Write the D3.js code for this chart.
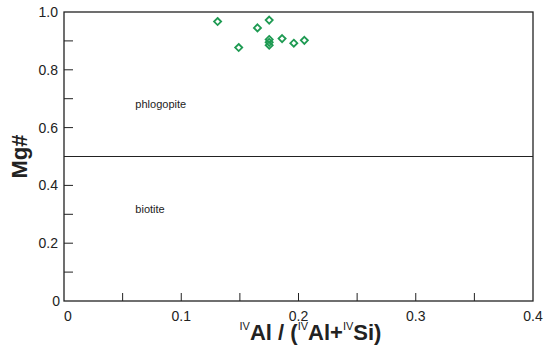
<!DOCTYPE html>
<html>
<head>
<meta charset="utf-8">
<script src="https://cdn.jsdelivr.net/npm/d3@7"></script>
<style>
  body { margin: 0; background: #fff; }
  text { font-family: "Liberation Sans", Arial, sans-serif; }
</style>
</head>
<body>
<svg id="mainsvg" width="550" height="351"></svg>
<script>
const alRatio = [0.131, 0.149, 0.165, 0.175, 0.175, 0.175, 0.175, 0.186, 0.196, 0.205];
const mgNum   = [0.967, 0.877, 0.945, 0.972, 0.905, 0.895, 0.885, 0.908, 0.892, 0.902];
const xTicks = [0, 0.1, 0.2, 0.3, 0.4];
const yTicks = [0, 0.2, 0.4, 0.6, 0.8, 1.0];
const fields = [{ name: 'phlogopite', x: 0.06, y: 0.68 }, { name: 'biotite', x: 0.06, y: 0.32 }];
const boundary = 0.5;

const svg = d3.select('#mainsvg');
const margin = { top: 12, right: 17, bottom: 50, left: 64 };
const innerWidth = 550 - margin.left - margin.right;
const innerHeight = 351 - margin.top - margin.bottom;
const g = svg.append('g').attr('transform', `translate(${margin.left}, ${margin.top})`);

const x = d3.scaleLinear().domain([0, 0.4]).range([0, innerWidth]);
const y = d3.scaleLinear().domain([0, 1]).range([innerHeight, 0]);

// frame
g.append('rect')
  .attr('width', innerWidth).attr('height', innerHeight)
  .attr('fill', 'none').attr('stroke', '#222').attr('stroke-width', 1.3);

// inward ticks
g.selectAll('.xt').data(d3.range(1, 8).map(i => i * 0.05)).join('line')
  .attr('x1', d => x(d)).attr('x2', d => x(d))
  .attr('y1', innerHeight).attr('y2', innerHeight - 8)
  .attr('stroke', '#222').attr('stroke-width', 1);
g.selectAll('.yt').data(d3.range(1, 10).map(i => i * 0.1)).join('line')
  .attr('x1', 0).attr('x2', 9)
  .attr('y1', d => y(d)).attr('y2', d => y(d))
  .attr('stroke', '#222').attr('stroke-width', 1);

g.selectAll('.xl').data(xTicks).join('text')
  .attr('x', d => x(d)).attr('y', innerHeight + 20)
  .attr('text-anchor', d => d === 0 ? 'start' : 'middle')
  .attr('font-size', 14).attr('fill', '#222')
  .text(d => d === 0 ? '0' : d.toFixed(1));
g.selectAll('.yl').data(yTicks).join('text')
  .attr('x', d => d === 0 ? -4 : -6).attr('y', d => y(d) + 5)
  .attr('text-anchor', 'end')
  .attr('font-size', 14).attr('fill', '#222')
  .text(d => d === 0 ? '0' : d.toFixed(1));

// boundary line
g.append('line')
  .attr('x1', 0).attr('x2', innerWidth)
  .attr('y1', y(boundary)).attr('y2', y(boundary))
  .attr('stroke', '#222').attr('stroke-width', 1.2);

g.selectAll('.field').data(fields).join('text')
  .attr('x', d => x(d.x) + 1).attr('y', d => y(d.y) + 4)
  .attr('font-size', 11).attr('fill', '#222')
  .text(d => d.name);

// points
const diamond = d3.symbol().type(d3.symbolDiamond2).size(32);
g.selectAll('.pt').data(alRatio).join('path')
  .attr('d', diamond)
  .attr('transform', (d, i) => `translate(${x(d)}, ${y(mgNum[i])})`)
  .attr('fill', 'none').attr('stroke', '#1e9a52').attr('stroke-width', 1.8);

// axis titles
svg.append('text')
  .attr('transform', `translate(27, ${margin.top + y(0.5)}) rotate(-90)`)
  .attr('text-anchor', 'middle')
  .attr('font-size', 22).attr('font-weight', 'bold').attr('fill', '#222')
  .text('Mg#');

const xt = svg.append('text')
  .attr('x', margin.left + x(0.2) + 12).attr('y', 340)
  .attr('text-anchor', 'middle')
  .attr('font-size', 22).attr('font-weight', 'bold').attr('fill', '#222');
[['IV', true], ['Al / (', false], ['IV', true], ['Al+', false], ['IV', true], ['Si)', false]]
  .forEach(([t, sup]) => {
    xt.append('tspan')
      .attr('font-size', sup ? 11 : 22)
      .attr('font-weight', sup ? 'normal' : 'bold')
      .attr('baseline-shift', sup ? '90%' : null)
      .text(t);
  });
</script>
</body>
</html>
